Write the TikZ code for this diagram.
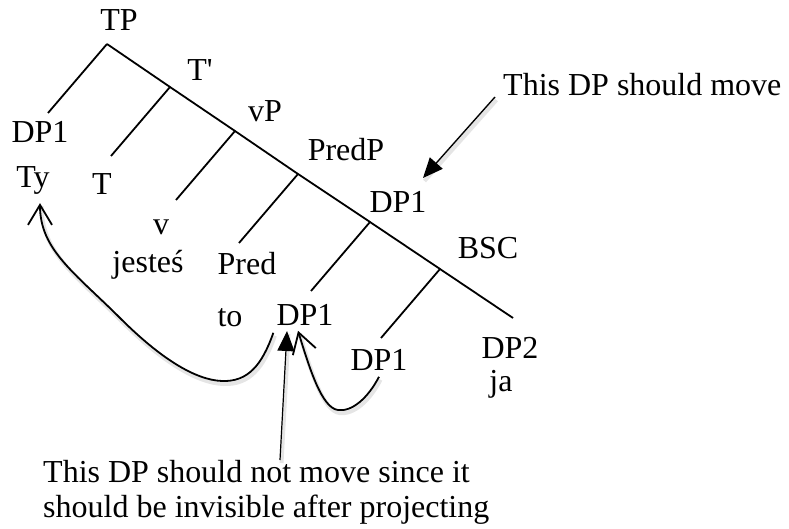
\documentclass[tikz,border=0pt]{standalone}
\usepackage{fontspec}
\setmainfont{Liberation Serif}
\usetikzlibrary{arrows.meta}
\tikzset{
    lbl/.style={inner sep=0pt, font=\fontsize{32}{35}\selectfont},
    branch/.style={line width=1.8pt},
    soft/.style={preaction={draw=black!10, line width=4pt, -, transform canvas={shift={(1.5pt,-3pt)}}}},
    note/.style={soft, -{Triangle[length=20pt,width=17pt]}, line width=1.4pt},
    hop/.style={soft, -{Straight Barb[length=20pt,width=24pt,line width=1.8pt]}, line width=1.8pt},
}

\begin{document}
\begin{tikzpicture}[x=1pt,y=-1pt]
    \useasboundingbox (0,0) rectangle (789,529);
    % spine of the tree
    \coordinate (tp) at (107,44);
    \coordinate (tb) at (170,87);
    \coordinate (vp) at (235,131);
    \coordinate (pp) at (298,174);
    \coordinate (dp) at (370,222);
    \coordinate (bsc) at (440,269);
    \coordinate (bend) at (513,318);
    \draw[branch] (tp) -- (tb) -- (vp) -- (pp) -- (dp) -- (bsc) -- (bend);
    \foreach \n in {tp,tb,vp,pp,dp,bsc}{
        \path (\n) ++(-59,69) coordinate (\n-l);
        \draw[branch] (\n) -- (\n-l);
    }
    % labels
    \node[lbl] (tpl)  at (119,20)  {TP};
    \node[lbl] (tbl)  at (200,70)  {T\textquotesingle};
    \node[lbl] (vpl)  at (265,111) {vP};
    \node[lbl] (ppl)  at (346,150) {PredP};
    \node[lbl] (dpb)  at (398,202) {DP1};
    \node[lbl] (bscl) at (488,248) {BSC};
    \node[lbl] (dpa)  at (40,132)  {DP1};
    \node[lbl] (ty)   at (33,180)  {Ty};
    \node[lbl] (tl)   at (102,184) {T};
    \node[lbl] (vl)   at (161,227) {v};
    \node[lbl] (jest) at (148,265) {jesteś};
    \node[lbl] (pred) at (247,264) {Pred};
    \node[lbl] (to)   at (230,318) {to};
    \node[lbl] (dpm)  at (305,315) {DP1};
    \node[lbl] (dpl)  at (379,360) {DP1};
    \node[lbl] (dpc)  at (510,348) {DP2};
    \node[lbl] (ja)   at (501,384) {ja};
    % notes
    \node[lbl, anchor=base west] (move) at (503,96) {This DP should move};
    \node[lbl, anchor=base west, align=left] (stay) at (43,517)
        {This DP should not move since it\\should be invisible after projecting};
    \coordinate (movetip) at (423,178);
    \coordinate (staytip) at (287,331);
    \coordinate (staytail) at (280,460);
    \draw[note] ([xshift=-8pt,yshift=-1pt]move.base west) -- (movetip);
    \draw[note, line width=1.2pt] (staytail) -- (staytip);
    % movement arrows
    \draw[hop] ([xshift=-3pt,yshift=-7pt]dpm.south west)
        .. controls (262,365) and (248,382) .. (222,381)
        .. controls (195,380) and (160,358) .. (120,318)
        .. controls (75,273) and (40,250) .. ([xshift=7pt,yshift=-9pt]ty.south);
    \draw[hop] ([yshift=-6pt]dpl.south)
        .. controls (368,398) and (352,412) .. (338,410)
        .. controls (322,408) and (310,370) .. ([xshift=-7pt,yshift=-5pt]dpm.south);
\end{tikzpicture}
\end{document}
